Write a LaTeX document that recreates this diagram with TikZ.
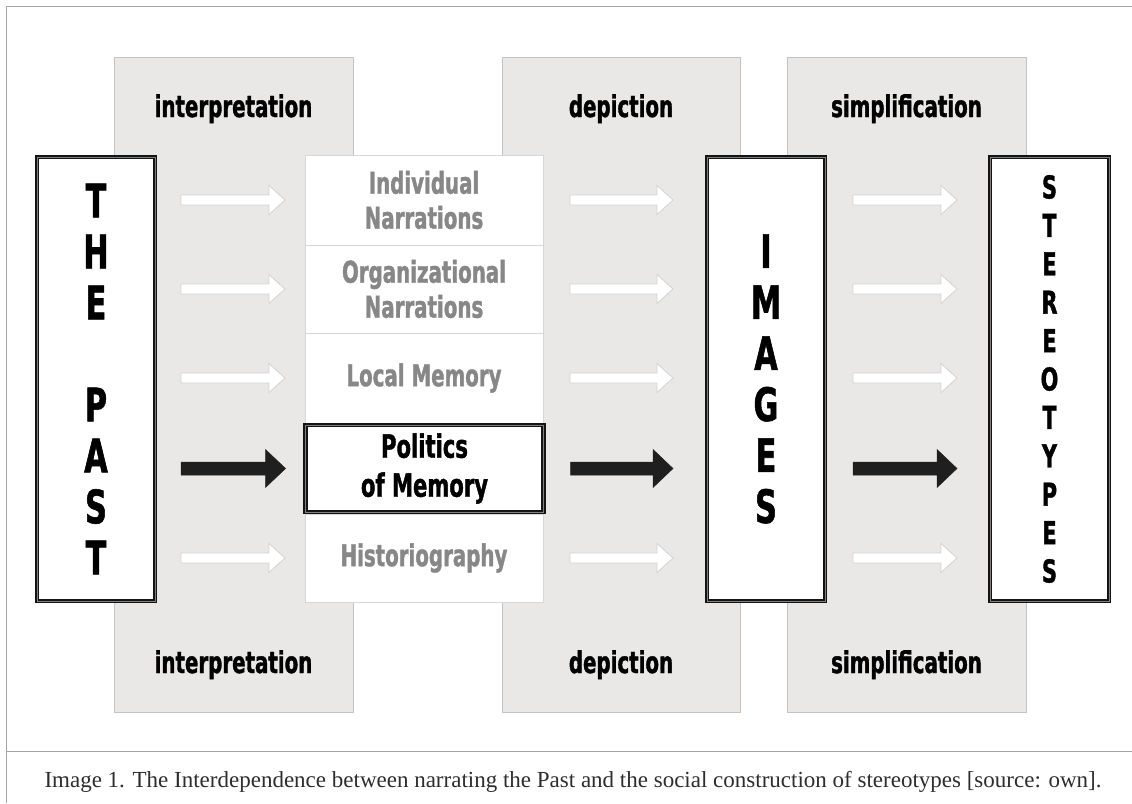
\documentclass[tikz,border=0pt]{standalone}
\usepackage{fontspec}
\setmainfont{Liberation Serif}
\newfontfamily\heavyfont[FakeStretch=0.66, BoldFeatures={FakeBold=1.2}]{DejaVu Sans}
\usetikzlibrary{calc}

\definecolor{panelgray}{RGB}{233,232,230}
\definecolor{panelline}{RGB}{195,195,195}
\definecolor{cellline}{RGB}{215,215,215}
\definecolor{textgray}{RGB}{135,135,135}
\definecolor{framegray}{RGB}{165,165,165}
\definecolor{arrowline}{RGB}{210,210,210}
\definecolor{captiongray}{RGB}{45,45,45}

% block arrow: style, from, to, half shaft, half head, head length
\newcommand{\blockarrow}[6]{%
  \draw[#1] ($(#2)+(0,#4)$) -- ($(#3)+(-#6,#4)$) -- ($(#3)+(-#6,#5)$) -- (#3)
    -- ($(#3)+(-#6,-#5)$) -- ($(#3)+(-#6,-#4)$) -- ($(#2)+(0,-#4)$) -- cycle;}

\tikzset{
  panel/.style={fill=panelgray, draw=panelline, line width=0.8pt},
  heading/.style={anchor=base, font=\heavyfont\bfseries\fontsize{30}{35}\selectfont},
  cell/.style={draw=cellline, fill=white, line width=0.8pt, minimum width=238pt,
    inner sep=0pt, outer sep=0pt, align=center, text=textgray,
    font=\heavyfont\bfseries\fontsize{30}{35}\selectfont},
  keybox/.style={draw=black!92, line width=1.8pt, double=black!50, double distance=0.5pt,
    fill=white, inner sep=0pt, outer sep=0pt, align=center},
  lightarrow/.style={fill=white, draw=arrowline, line width=0.8pt},
  heavyarrow/.style={fill=black!88, draw=black!88, line width=0.5pt},
  frameline/.style={draw=framegray, line width=0.8pt}
}

\begin{document}
\begin{tikzpicture}[x=1pt, y=-1pt]
  \useasboundingbox (0,0) rectangle (1132,803);

  % frame
  \draw[frameline] (1132,6) -- (6,6) -- (6,803);
  \draw[frameline] (6,751) -- (1132,751);

  % panels
  \draw[panel] (114,57) rectangle (353,712);
  \draw[panel] (502,57) rectangle (740,712);
  \draw[panel] (787,57) rectangle (1026,712);

  \node[heading] (int1) at (233.5,117) {interpretation};
  \node[heading] (dep1) at (621,117) {depiction};
  \node[heading] (sim1) at (906.5,117) {simplification};
  \node[heading] (int2) at (233.5,673) {interpretation};
  \node[heading] (dep2) at (621,673) {depiction};
  \node[heading] (sim2) at (906.5,673) {simplification};

  % middle column
  \node[cell, minimum height=90pt] (ind) at (424,200) {Individual\\Narrations};
  \node[cell, minimum height=88pt] (org) at (424,289) {Organizational\\Narrations};
  \node[cell, minimum height=90pt] (loc) at (424,378) {Local Memory};
  \node[cell, minimum height=88pt] (his) at (424,558) {Historiography};
  \node[keybox, minimum width=238pt, minimum height=87pt,
    font=\heavyfont\bfseries\fontsize{32}{39}\selectfont] (pol) at (424.5,468.5) {Politics\\of Memory};

  % outer boxes
  \node[keybox, minimum width=118pt, minimum height=444pt,
    font=\heavyfont\bfseries\fontsize{46}{51}\selectfont] (past) at (96,379) {T\\H\\E\\~\\P\\A\\S\\T};
  \node[keybox, minimum width=118pt, minimum height=444pt,
    font=\heavyfont\bfseries\fontsize{46}{51}\selectfont] (images) at (766,379) {I\\M\\A\\G\\E\\S};
  \node[keybox, minimum width=119pt, minimum height=444pt,
    font=\heavyfont\bfseries\fontsize{31.5}{38.4}\selectfont] (stereo) at (1049.5,379) {S\\T\\E\\R\\E\\O\\T\\Y\\P\\E\\S};

  % arrows
  \foreach \c/\st/\w/\h/\l in {ind/lightarrow/5/14.5/16, org/lightarrow/5/14.5/16,
      loc/lightarrow/5/14.5/16, pol/heavyarrow/6.5/19/20, his/lightarrow/5/14.5/16} {
    \coordinate (s1) at ($(past.east |- \c)+(26,0)$);
    \coordinate (e1) at ($(\c.west)+(-20,0)$);
    \coordinate (s2) at ($(\c.east)+(27,0)$);
    \coordinate (e2) at ($(images.west |- \c)+(-34,0)$);
    \coordinate (s3) at ($(images.east |- \c)+(28,0)$);
    \coordinate (e3) at ($(stereo.west |- \c)+(-33,0)$);
    \blockarrow{\st}{s1}{e1}{\w}{\h}{\l}
    \blockarrow{\st}{s2}{e2}{\w}{\h}{\l}
    \blockarrow{\st}{s3}{e3}{\w}{\h}{\l}
  }

  % caption
  \node[anchor=base, text=captiongray, font=\fontsize{23}{27}\selectfont] (cap) at (573,787)
    {Image 1. The Interdependence between narrating the Past and the social construction of stereotypes [source: own].};
\end{tikzpicture}
\end{document}
